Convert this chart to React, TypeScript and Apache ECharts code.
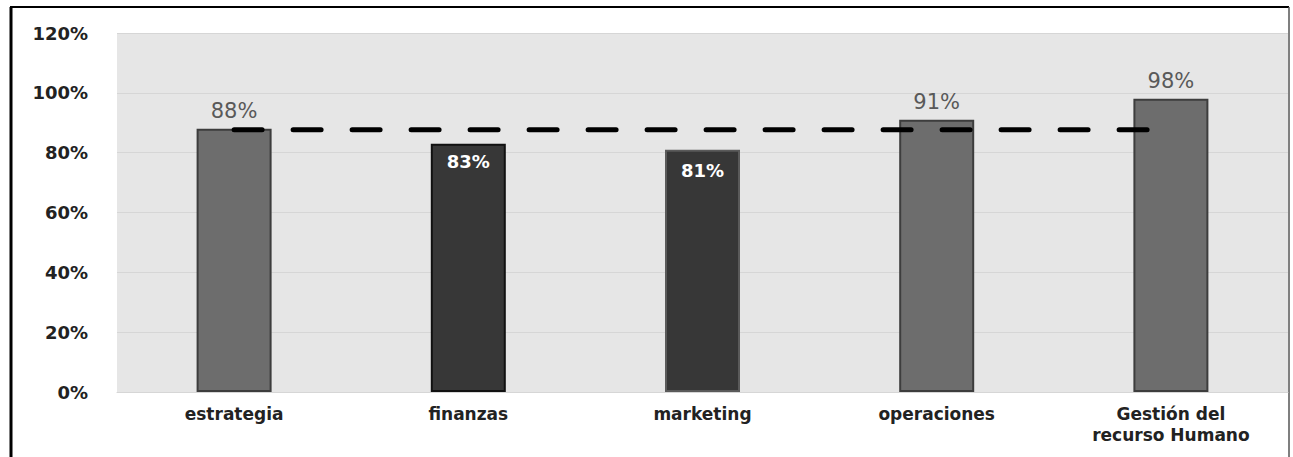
import React, { useEffect, useRef } from "react";
import * as echarts from "echarts";

const categories = ["estrategia", "finanzas", "marketing", "operaciones", "Gestión del\nrecurso Humano"];
const values = [88, 83, 81, 91, 98];
const referenceLine = [87.7, 87.7, 87.7, 87.7, 87.7];
const yTicks = { min: 0, max: 120, interval: 20 };

const lightBars = [true, false, false, true, true];
const borderColors = ["#3d3d3d", "#111111", "#5a5a5a", "#3d3d3d", "#3d3d3d"];

export default function App() {
  const ref = useRef<HTMLDivElement>(null);
  useEffect(() => {
    if (!ref.current) return;
    const chart = echarts.init(ref.current, null, { renderer: "svg" });
    const font = "'DejaVu Sans', Verdana, sans-serif";
    chart.setOption({
      animation: false,
      backgroundColor: "#ffffff",
      grid: {
        left: 117,
        right: 5,
        top: 33,
        bottom: 65,
        show: true,
        backgroundColor: "#e6e6e6",
        borderWidth: 0,
      },
      xAxis: {
        type: "category",
        data: categories,
        axisTick: { show: false },
        axisLine: { show: true, lineStyle: { color: "#d6d6d6", width: 1 } },
        axisLabel: {
          color: "#222222",
          fontWeight: "bold",
          fontSize: 17,
          fontFamily: font,
          margin: 11,
          lineHeight: 21,
          interval: 0,
        },
      },
      yAxis: {
        type: "value",
        min: yTicks.min,
        max: yTicks.max,
        interval: yTicks.interval,
        axisLine: { show: false },
        axisTick: { show: false },
        splitLine: { lineStyle: { color: "#d6d6d6", width: 1 } },
        axisLabel: {
          formatter: "{value}%",
          color: "#222222",
          fontWeight: "bold",
          fontSize: 18,
          fontFamily: font,
          margin: 29,
        },
      },
      series: [
        {
          type: "bar",
          barWidth: 75,
          data: values.map((v, i) => ({
            value: v,
            itemStyle: {
              color: lightBars[i] ? "#6d6d6d" : "#373737",
              borderColor: borderColors[i],
              borderWidth: 2,
            },
            label: lightBars[i]
              ? {
                  show: true,
                  position: "top",
                  distance: 7,
                  formatter: "{c}%",
                  color: "#595959",
                  fontSize: 21,
                  fontFamily: font,
                }
              : {
                  show: true,
                  position: "insideTop",
                  distance: i === 1 ? 9 : 12,
                  formatter: "{c}%",
                  color: "#ffffff",
                  fontWeight: "bold",
                  fontSize: 18,
                  fontFamily: font,
                },
          })),
          z: 2,
        },
        {
          type: "line",
          data: referenceLine,
          symbol: "none",
          lineStyle: { color: "#000000", width: 5, type: [28, 31], cap: "round" },
          z: 3,
        },
      ],
      graphic: [
        { type: "line", shape: { x1: 11, y1: 7, x2: 11, y2: 470 }, style: { stroke: "#000", lineWidth: 3 } },
        { type: "line", shape: { x1: 10, y1: 7, x2: 1289, y2: 7 }, style: { stroke: "#000", lineWidth: 2 } },
        { type: "line", shape: { x1: 1289, y1: 7, x2: 1289, y2: 470 }, style: { stroke: "#555", lineWidth: 1.5 } },
      ],
    });
    return () => chart.dispose();
  }, []);
  return (
    <div
      ref={ref}
      style={{ position: "fixed", left: 0, top: 0, width: 1293, height: 457, background: "#fff" }}
    />
  );
}
